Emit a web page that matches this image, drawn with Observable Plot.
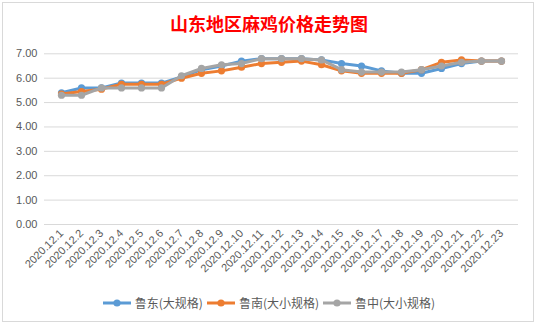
<!DOCTYPE html>
<html><head><meta charset="utf-8">
<script src="https://cdn.jsdelivr.net/npm/d3@7"></script>
<script src="https://cdn.jsdelivr.net/npm/@observablehq/plot@0.6"></script>
<style>
body{margin:0;background:#fff;width:538px;height:326px;overflow:hidden;position:relative;font-family:"Liberation Sans",Arial,sans-serif;}
#frame{position:absolute;left:2px;top:2px;width:532px;height:320px;border:1px solid #d9d9d9;box-sizing:border-box;pointer-events:none;}
#title{position:absolute;left:0;top:13px;width:538px;text-align:center;color:#ff0000;font-weight:bold;font-size:18px;line-height:20px;font-family:"Noto Sans CJK SC",sans-serif;}
#chart{position:absolute;left:0;top:40px;}
#legend{position:absolute;left:0;top:295px;width:538px;display:flex;justify-content:center;align-items:center;font-size:12px;color:#595959;font-family:"Noto Sans CJK SC",sans-serif;line-height:16px;}
.item{display:flex;align-items:center;margin:0 2px;}
.item svg{margin-right:4px;}
</style></head>
<body>
<div id="frame"></div>
<div id="title">山东地区麻鸡价格走势图</div>
<div id="chart"></div>
<div id="legend"></div>
<script>
const dates = ["2020.12.1","2020.12.2","2020.12.3","2020.12.4","2020.12.5","2020.12.6","2020.12.7","2020.12.8","2020.12.9","2020.12.10","2020.12.11","2020.12.12","2020.12.13","2020.12.14","2020.12.15","2020.12.16","2020.12.17","2020.12.18","2020.12.19","2020.12.20","2020.12.21","2020.12.22","2020.12.23"];
const ludong  = [5.40,5.60,5.60,5.80,5.80,5.80,6.05,6.35,6.50,6.70,6.80,6.80,6.80,6.75,6.60,6.50,6.30,6.20,6.20,6.40,6.60,6.70,6.70];
const lunan   = [5.35,5.45,5.55,5.75,5.75,5.75,6.00,6.20,6.30,6.45,6.60,6.65,6.70,6.55,6.30,6.20,6.20,6.20,6.35,6.65,6.75,6.70,6.70];
const luzhong = [5.30,5.30,5.60,5.60,5.60,5.60,6.10,6.40,6.55,6.60,6.80,6.80,6.80,6.75,6.35,6.25,6.25,6.25,6.35,6.50,6.65,6.70,6.70];
const seriesNames = ["鲁东(大规格)","鲁南(大小规格)","鲁中(大小规格)"];
const seriesColors = ["#5B9BD5","#ED7D31","#A5A5A5"];
const yTicks = [0,1,2,3,4,5,6,7];

const seriesValues = [ludong, lunan, luzhong];
const tables = seriesValues.map((vals, i) => dates.map((d, j) => ({date: d, value: vals[j], series: seriesNames[i]})));

const marks = [
  Plot.gridY(yTicks, {stroke: "#d9d9d9", strokeOpacity: 1}),
  Plot.axisY(yTicks, {tickSize: 0, tickPadding: 7, tickFormat: d3.format(".2f"), fontSize: 11, label: null}),
  Plot.axisX({tickSize: 0, tickPadding: 7, tickRotate: -45, fontSize: 11, label: null})
];
tables.forEach((t, i) => {
  marks.push(Plot.line(t, {x: "date", y: "value", stroke: seriesColors[i], strokeWidth: 3, curve: "linear"}));
  marks.push(Plot.dot(t, {x: "date", y: "value", fill: seriesColors[i], r: 3.6, stroke: "none"}));
});

const chart = Plot.plot({
  width: 538, height: 245,
  marginTop: 13.3, marginBottom: 61, marginLeft: 44, marginRight: 20,
  x: {type: "point", domain: dates, padding: 0.5},
  y: {domain: [0, 7]},
  style: {fontFamily: "'Liberation Sans', Arial, sans-serif", color: "#595959", background: "transparent"},
  marks
});
document.getElementById("chart").appendChild(chart);

const legend = document.getElementById("legend");
seriesNames.forEach((name, i) => {
  const item = document.createElement("div");
  item.className = "item";
  item.innerHTML = `<svg width="28" height="10"><line x1="0" y1="5" x2="28" y2="5" stroke="${seriesColors[i]}" stroke-width="3"/><circle cx="14" cy="5" r="3.6" fill="${seriesColors[i]}"/></svg><span>${name}</span>`;
  legend.appendChild(item);
});
</script>
</body></html>
